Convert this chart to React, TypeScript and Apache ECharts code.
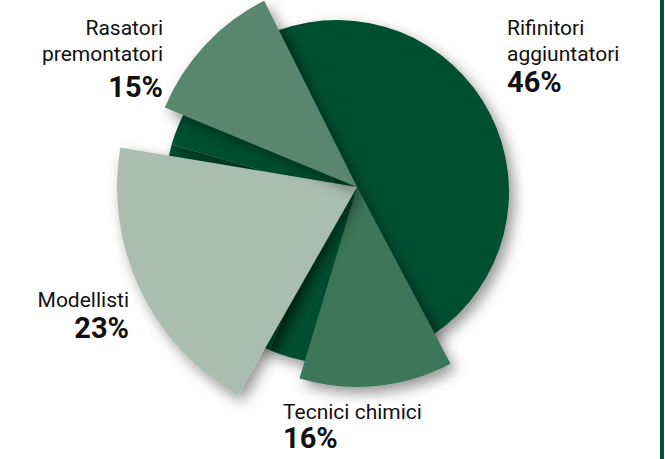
import React, { useEffect, useRef } from "react";
import * as echarts from "echarts";

// ---- data ----
const categories = ["Rifinitori\naggiuntatori", "Tecnici chimici", "Modellisti", "Rasatori\npremontatori"];
const shares = [46, 16, 23, 15];

// ---- styling / layout (kept apart from the data) ----
const DARK = "#024f31";
const sliceColors = [DARK, "#3e7659", "#a9bdb1", "#5a8670"];
const sliceRadii = [152, 200, 240, 208];
const labelAnchors: [number, number, "left" | "right", number][] = [
  [507, 15, "left", 30],
  [283, 399, "left", 26],
  [129, 287, "right", 30],
  [163, 15, "right", 40],
];
const START = 110; // degrees
const PAD = 13;
const CENTER = [357, 187];

export default function App() {
  const ref = useRef<HTMLDivElement>(null);
  useEffect(() => {
    if (!ref.current) return;
    const chart = echarts.init(ref.current, undefined, { renderer: "svg" });

    const shadow = {
      shadowBlur: 14,
      shadowColor: "rgba(0,0,0,0.42)",
      shadowOffsetX: 5,
      shadowOffsetY: 6,
    };

    const bgData = shares.map((v, i) => {
      const [, , align, pctLH] = labelAnchors[i];
      return {
        name: categories[i],
        value: v,
        itemStyle: { color: DARK, borderWidth: 0 },
        label: {
          rich: {
            n: { fontSize: 21, lineHeight: 26, fontFamily: "Roboto", color: "#111", align },
            p: { fontSize: 29, lineHeight: pctLH, fontWeight: "bold", fontFamily: "Roboto", color: "#111", align },
          },
        },
      };
    });

    const sliceSeries = [1, 2, 3].map((k) => ({
      type: "pie",
      name: categories[k],
      center: CENTER,
      radius: sliceRadii[k],
      startAngle: START,
      padAngle: PAD,
      silent: true,
      emphasis: { disabled: true },
      label: { show: false },
      labelLine: { show: false },
      data: shares.map((v, i) => ({
        name: categories[i],
        value: v,
        itemStyle:
          i === k
            ? { color: sliceColors[i], ...shadow }
            : { color: "rgba(0,0,0,0)", shadowBlur: 0 },
      })),
    }));

    chart.setOption({
      animation: false,
      backgroundColor: "#ffffff",
      graphic: [
        {
          type: "rect",
          shape: { x: 660, y: 0, width: 4, height: 459 },
          style: { fill: DARK },
          silent: true,
        },
      ],
      series: [
        {
          type: "pie",
          name: "totale",
          center: [337, 192],
          radius: 172,
          startAngle: START,
          silent: true,
          emphasis: { disabled: true },
          itemStyle: { ...shadow, borderWidth: 0 },
          label: {
            show: true,
            position: "outside",
            formatter: (p: any) =>
              p.name
                .split("\n")
                .map((s: string) => `{n|${s}}`)
                .join("\n") + `\n{p|${p.value}%}`,
          },
          labelLine: { show: false },
          labelLayout: (params: any) => {
            const [x, y, align] = labelAnchors[params.dataIndex];
            return { x, y, align, verticalAlign: "top" };
          },
          data: bgData,
        },
        ...sliceSeries,
      ],
    });
    return () => chart.dispose();
  }, []);

  return (
    <div
      ref={ref}
      style={{ position: "fixed", left: 0, top: 0, width: 665, height: 459 }}
    />
  );
}
